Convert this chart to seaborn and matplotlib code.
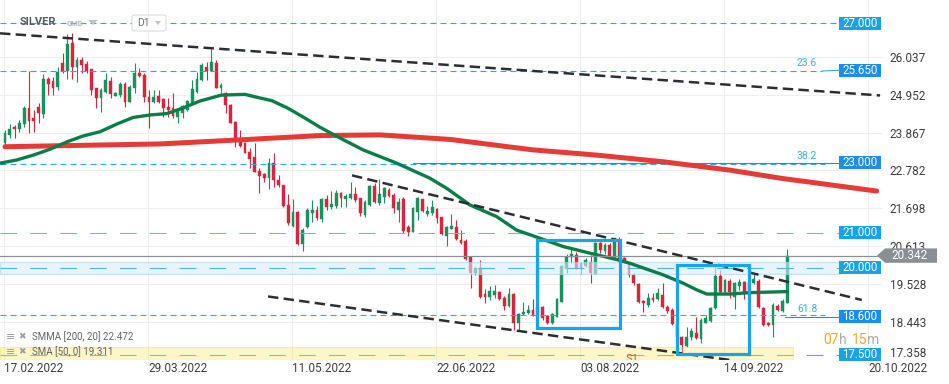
import numpy as np
import matplotlib
matplotlib.use('Agg')
import matplotlib.pyplot as plt
from matplotlib.patches import Rectangle, Polygon, FancyBboxPatch
import seaborn as sns

# daily candles of SILVER, first bar = 17.02.2022
opens = [23.58, 23.81, 24.03, 23.97, 24.10, 24.56, 24.27, 24.59, 24.39, 25.39,
         25.34, 25.16, 25.85, 25.64, 26.42, 25.74, 25.95, 25.83, 25.68, 25.13,
         24.85, 25.04, 25.35, 24.92, 24.94, 25.26, 24.75, 25.13, 25.58, 25.52,
         24.88, 24.73, 24.91, 24.82, 24.59, 24.56, 24.30, 24.42, 24.51, 24.72,
         25.04, 25.37, 25.74, 25.63, 25.87, 25.15, 24.99, 24.66, 24.18, 23.67,
         23.56, 23.32, 23.18, 22.77, 22.67, 22.56, 22.99, 22.51, 22.36, 21.79,
         21.20, 21.58, 20.67, 21.15, 21.57, 21.65, 21.38, 21.95, 21.74, 21.76,
         22.13, 21.95, 21.98, 22.11, 21.98, 21.50, 21.79, 22.34, 21.86, 22.03,
         22.22, 22.08, 21.65, 21.95, 21.15, 21.03, 21.60, 21.95, 21.52, 21.55,
         21.67, 21.44, 20.90, 21.11, 21.15, 20.79, 20.77, 20.29, 19.85, 20.00,
         19.24, 19.16, 19.21, 19.31, 19.12, 18.90, 19.24, 18.40, 18.66, 18.69,
         18.78, 18.64, 18.86, 18.61, 18.40, 18.59, 19.02, 19.95, 20.29, 20.36,
         19.95, 20.04, 20.17, 19.81, 20.71, 20.47, 20.64, 20.29, 20.79, 20.26,
         20.12, 19.78, 19.53, 19.04, 18.93, 19.14, 19.09, 19.21, 18.86, 18.78,
         18.38, 18.00, 17.75, 18.00, 18.11, 17.94, 18.42, 18.48, 18.83, 19.76,
         19.31, 19.62, 19.16, 19.47, 19.59, 19.31, 19.55, 19.62, 18.83, 18.40,
         18.35, 18.90, 18.76, 18.99]
highs = [23.94, 24.10, 24.08, 24.23, 24.63, 25.63, 24.51, 24.70, 25.54, 25.45,
         25.47, 25.75, 26.14, 26.69, 26.71, 26.02, 26.04, 25.93, 25.68, 25.13,
         25.13, 25.56, 25.47, 25.03, 25.32, 25.32, 25.23, 25.85, 25.71, 25.56,
         25.09, 25.09, 25.09, 24.85, 24.85, 24.99, 24.56, 24.66, 24.80, 25.37,
         25.61, 25.85, 25.90, 26.25, 25.95, 25.30, 25.04, 24.69, 24.21, 23.94,
         23.61, 23.41, 23.56, 22.84, 22.72, 23.13, 23.27, 22.65, 22.37, 22.11,
         21.95, 21.63, 21.12, 21.70, 21.93, 21.76, 21.98, 22.08, 22.20, 22.22,
         22.17, 22.11, 22.44, 22.30, 22.00, 21.93, 22.36, 22.41, 22.53, 22.30,
         22.27, 22.14, 21.98, 22.01, 21.22, 21.72, 22.01, 21.97, 21.76, 21.93,
         21.70, 21.46, 21.19, 21.52, 21.36, 21.07, 20.81, 20.33, 20.01, 20.22,
         19.37, 19.48, 19.50, 19.34, 19.18, 19.40, 19.26, 18.71, 19.02, 18.93,
         19.09, 18.95, 18.90, 18.64, 18.69, 19.12, 20.07, 20.40, 20.55, 20.45,
         20.17, 20.26, 20.36, 20.74, 20.74, 20.71, 20.69, 20.85, 20.86, 20.31,
         20.17, 19.83, 19.55, 19.07, 19.28, 19.28, 19.40, 19.55, 18.93, 18.83,
         18.42, 18.04, 18.29, 18.26, 18.59, 18.54, 18.64, 18.88, 20.02, 19.93,
         19.66, 19.66, 19.59, 19.66, 19.61, 19.70, 19.81, 19.66, 18.88, 18.45,
         18.97, 18.95, 19.10, 20.53]
lows = [23.51, 23.70, 23.70, 23.89, 24.04, 23.84, 23.89, 24.13, 24.27, 24.94,
        24.94, 25.09, 25.56, 25.39, 25.39, 25.32, 25.56, 25.56, 24.94, 24.56,
        24.46, 24.99, 24.85, 24.90, 24.89, 24.59, 24.73, 24.99, 25.47, 24.75,
        23.99, 24.70, 24.72, 24.32, 24.30, 24.29, 24.15, 24.27, 24.47, 24.70,
        24.99, 25.33, 25.37, 25.63, 25.13, 24.99, 24.44, 24.13, 23.44, 23.46,
        23.27, 22.84, 22.73, 22.14, 22.46, 22.24, 22.32, 22.32, 21.74, 21.22,
        21.17, 20.64, 20.48, 21.12, 21.31, 21.36, 21.29, 21.65, 21.67, 21.70,
        21.74, 21.74, 21.95, 21.89, 21.48, 21.46, 21.76, 21.86, 21.79, 21.86,
        22.03, 21.57, 21.29, 21.00, 20.90, 21.01, 21.36, 21.60, 21.48, 21.50,
        21.27, 20.93, 20.62, 21.09, 20.79, 20.67, 20.22, 19.40, 19.79, 19.12,
        18.97, 19.07, 19.12, 19.07, 18.78, 18.86, 18.21, 18.19, 18.64, 18.67,
        18.61, 18.55, 18.51, 18.38, 18.38, 18.57, 19.02, 19.83, 20.12, 19.96,
        19.81, 20.02, 19.57, 19.81, 20.41, 20.39, 20.26, 20.26, 20.17, 20.12,
        19.72, 19.50, 18.99, 18.73, 18.88, 19.02, 19.07, 18.83, 18.69, 18.35,
        17.97, 17.59, 17.73, 17.92, 17.94, 17.85, 18.40, 18.45, 18.80, 19.28,
        19.28, 19.14, 18.80, 19.35, 19.09, 19.25, 19.53, 18.83, 18.32, 18.32,
        18.00, 18.76, 18.72, 18.97]
closes = [23.84, 23.96, 23.96, 24.13, 24.56, 24.21, 24.21, 24.44, 25.39, 25.26,
          25.15, 25.61, 25.64, 26.40, 25.75, 25.95, 25.80, 25.64, 25.09, 24.87,
          25.09, 25.37, 24.96, 25.01, 25.26, 24.75, 25.18, 25.58, 25.50, 24.88,
          24.75, 24.88, 24.75, 24.58, 24.51, 24.34, 24.51, 24.63, 24.77, 25.11,
          25.39, 25.80, 25.63, 25.90, 25.13, 25.23, 24.66, 24.15, 23.65, 23.48,
          23.29, 23.11, 22.75, 22.62, 22.56, 22.99, 22.51, 22.36, 21.77, 21.27,
          21.58, 20.67, 21.07, 21.65, 21.65, 21.41, 21.95, 21.74, 21.82, 22.13,
          21.98, 22.05, 22.11, 21.93, 21.55, 21.87, 22.34, 21.89, 22.11, 22.27,
          22.05, 21.70, 21.89, 21.06, 21.03, 21.70, 21.98, 21.63, 21.62, 21.72,
          21.41, 20.96, 21.15, 21.19, 20.81, 20.69, 20.23, 19.85, 19.98, 19.16,
          19.16, 19.34, 19.34, 19.09, 18.90, 19.24, 18.40, 18.67, 18.73, 18.78,
          18.64, 18.86, 18.54, 18.42, 18.67, 19.10, 20.04, 20.31, 20.40, 19.98,
          20.12, 20.21, 19.85, 20.71, 20.50, 20.64, 20.29, 20.84, 20.22, 20.20,
          19.78, 19.55, 19.02, 18.97, 19.14, 19.07, 19.28, 18.86, 18.76, 18.38,
          18.00, 17.78, 18.00, 18.19, 17.97, 18.49, 18.54, 18.83, 19.76, 19.31,
          19.64, 19.31, 19.57, 19.59, 19.31, 19.55, 19.66, 18.86, 18.35, 18.35,
          18.93, 18.78, 19.05, 20.34]

date_labels = ['17.02.2022', '29.03.2022', '11.05.2022', '22.06.2022',
               '03.08.2022', '14.09.2022', '20.10.2022']
date_bars = [0, 30, 60, 90, 120, 150, 180]
price_ticks = [26.037, 24.952, 23.867, 22.782, 21.698, 20.613, 19.528, 18.443, 17.358]

# indicators (bar, price)
sma50_bar = [-1.0, 2.4, 5.9, 9.4, 12.9, 16.3, 19.8, 23.3, 26.7, 30.2, 33.7, 37.1,
             40.6, 45.1, 50.0, 52.1, 55.6, 59.0, 62.5, 65.6, 69.8, 74.6, 81.6, 88.5,
             92.0, 96.9, 102.4, 106.6, 110.8, 116.3, 121.9, 127.4, 130.2, 137.1,
             141.3, 144.1, 146.2, 151.0, 155.2, 163.0]
sma50_val = [22.99, 23.08, 23.22, 23.39, 23.60, 23.77, 23.89, 24.11, 24.30, 24.37,
             24.41, 24.57, 24.77, 24.94, 24.96, 24.89, 24.78, 24.56, 24.28, 24.02,
             23.71, 23.37, 22.99, 22.56, 22.27, 21.79, 21.46, 21.07, 20.87, 20.60,
             20.41, 20.23, 20.12, 19.79, 19.55, 19.36, 19.24, 19.24, 19.28, 19.31]
smma_bar = [0, 15.6, 32.3, 47.9, 65.6, 78.1, 92.7, 110.0, 123.3, 137.1, 151.0, 161.5, 181.6]
smma_val = [23.46, 23.50, 23.54, 23.65, 23.78, 23.80, 23.67, 23.37, 23.22, 23.03,
            22.79, 22.56, 22.19]

# drawn trend lines (bar, price)
trend_top = ([-1.04, 182.3], [26.71, 24.93])
trend_mid = ([72.3, 178.5], [22.64, 19.07])
trend_low = ([54.8, 151.0], [19.17, 17.35])

level_prices = [27.0, 25.65, 23.0, 21.0, 20.0, 18.6, 17.5]
level_texts = ['27.000', '25.650', '23.000', '21.000', '20.000', '18.600', '17.500']
fib_prices = [25.65, 23.0, 18.6]
fib_texts = ['23.6', '38.2', '61.8']
last_price = 20.342

zone_20 = (19.805, 20.149)
zone_175 = (17.29, 17.71)
box_a = (110.9, 128.1, 18.26, 20.79)
box_b = (139.9, 155.0, 17.52, 20.07)

sns.set_style('white')
plt.rcParams['font.family'] = ['Roboto', 'DejaVu Sans']
plt.rcParams['lines.scale_dashes'] = False

W, H = 949, 384


def bx(px):
    return (px - 5) / 4.8


def py(px):
    return 20 + (267.5 - px) / 34.9


def F(x, y):
    return (x / W, 1 - y / H)


fig = plt.figure(figsize=(W / 100, H / 100), dpi=100)
fig.patch.set_facecolor('white')
ax = fig.add_axes([0, 24 / H, 882 / W, 360 / H])
ax.set_xlim(bx(0), bx(882))
ax.set_ylim(py(360), py(0))
for s in ax.spines.values():
    s.set_visible(False)

# grid
ax.set_yticks(price_ticks)
ax.set_yticklabels([f'{v:.3f}' for v in price_ticks])
ax.yaxis.tick_right()
ax.set_xticks(np.array(date_bars) - 0.2)
ax.set_xticklabels(date_labels, ha='left')
ax.tick_params(axis='y', length=0, pad=5.5, labelsize=8.5, labelcolor='#3d3d3d')
ax.tick_params(axis='x', length=0, pad=1.5, labelsize=8.5, labelcolor='#3d3d3d')
ax.grid(True, color='#eeeeee', lw=0.8)
ax.set_axisbelow(True)
for lab in ax.get_yticklabels():
    if lab.get_text() == '17.358':
        lab.set_va('bottom')

# zones
ax.add_patch(Rectangle((bx(0), zone_20[0]), bx(840) - bx(0), zone_20[1] - zone_20[0],
                       fc='#d8eefb', ec='#9fd6f3', lw=0.9, alpha=0.6, zorder=4.5))

# horizontal levels
short = (0, (4.3, 2.9))
longd = (0, (12, 9.5))
ax.plot([bx(0), bx(839)], [27.0, 27.0], color='#2aa8e6', lw=0.8, ls=short, zorder=5)
ax.plot([bx(0), bx(822)], [25.63, 25.63], color='#2aa8e6', lw=0.8, ls=short, zorder=5)
ax.plot([bx(822), bx(839)], [25.63, 25.65], color='#2a9ae6', lw=0.7, zorder=5)
ax.plot([bx(0), bx(825)], [22.966, 22.966], color='#2aa8e6', lw=0.8, ls=short, zorder=5)
ax.plot([bx(413), bx(839)], [23.0, 23.0], color='#1f8fe8', lw=0.8, zorder=5)
ax.plot([bx(0), bx(839)], [21.0, 21.0], color='#5fbdee', lw=0.8, ls=longd, zorder=5)
ax.plot([bx(0), bx(839)], [20.0, 20.0], color='#4fb2ea', lw=0.8, ls=longd, zorder=4.6)
ax.plot([bx(0), bx(825)], [18.64, 18.64], color='#2aa8e6', lw=0.8, ls=short, zorder=5)
ax.plot([bx(785), bx(839)], [18.59, 18.59], color='#1f8fe8', lw=0.8, zorder=5)
ax.plot([bx(0), bx(839)], [17.5, 17.5], color='#45aee6', lw=0.8, ls=longd, zorder=5)
ax.add_patch(Rectangle((bx(0), zone_175[0]), bx(792.7) - bx(0), zone_175[1] - zone_175[0],
                       fc='#fbe65c', ec='#f2d630', lw=0.9, alpha=0.35, zorder=6))

# candles
idx = np.arange(len(opens))
o = np.array(opens)
c = np.array(closes)
cols = np.where(c >= o, '#17915e', '#d6253c')
ax.vlines(idx, lows, highs, colors=cols, lw=0.8, zorder=3)
ax.bar(idx, np.maximum(np.abs(c - o), 0.03), bottom=np.minimum(o, c), width=0.62,
       color=cols, edgecolor=cols, linewidth=0.3, zorder=4)

# moving averages
sns.lineplot(x=smma_bar, y=smma_val, ax=ax, color='#e53a35', linewidth=3.6, zorder=5,
             sort=False, legend=False)
sns.lineplot(x=sma50_bar, y=sma50_val, ax=ax, color='#0b7d48', linewidth=2.4, zorder=5,
             sort=False, legend=False)

# trend lines
for xs, ys in (trend_top, trend_mid, trend_low):
    ax.plot(xs, ys, color='#2b2f34', lw=1.8, ls=(0, (7.5, 3.8)), zorder=7)

# analysis boxes
for x0, x1, y0, y1 in (box_a, box_b):
    ax.add_patch(Rectangle((x0, y0), x1 - x0, y1 - y0, fill=False, ec='#13a5ee', lw=2.3, zorder=8))

# current price line
ax.plot([bx(0), bx(882)], [last_price, last_price], color='#8b9095', lw=0.9, zorder=6)

# level tags
light = ['27.000', '21.000', '20.000', '17.500']
hh = 13 / 34.9
for p, t in zip(level_prices, level_texts):
    col = '#16a3e9' if t in light else '#1c8df0'
    ax.add_patch(Rectangle((bx(839), p - hh / 2), bx(881) - bx(839), hh, fc=col, ec='none',
                           zorder=9, clip_on=False))
    ax.text(bx(860), p, t, color='white', fontsize=8.3, ha='center', va='center', zorder=10)
for p, t in zip(fib_prices, fib_texts):
    ax.text(bx(807), p + 0.2, t, color='#3aaee8', fontsize=7.5, ha='center', va='center', zorder=9)

# price tag
tag = [(877, 255.6), (885, 248.4), (937, 248.4), (937, 262.8), (885, 262.8)]
ax.add_patch(Polygon([(bx(x), py(y)) for x, y in tag], closed=True, fc='#899095', ec='none',
                     zorder=10, clip_on=False))
ax.text(bx(910), last_price, f'{last_price:.3f}', color='white', fontsize=8.5,
        ha='center', va='center', zorder=11, clip_on=False)

ax.text(bx(626), py(354), 'S1', color='#e9561e', fontsize=8, va='top', zorder=9, clip_on=True)

# header
fig.text(*F(20, 22), 'SILVER', fontsize=8, fontweight='bold', color='#555b61', va='center')
fig.text(*F(67, 23.5), 'CMD', fontsize=5.5, fontweight='bold', color='#b2b6ba', va='center')
fig.patches.append(Polygon([F(88, 20), F(98, 20), F(93, 25)], closed=True, fc='#c0c4c8',
                           ec='none', transform=fig.transFigure))
fig.patches.append(FancyBboxPatch(F(132, 31), 34 / W, 16 / H,
                                  boxstyle='round,pad=0,rounding_size=0.004',
                                  fc='white', ec='#dcdcdc', lw=0.8, transform=fig.transFigure))
fig.text(*F(137, 23), 'D1', fontsize=7.5, color='#676c70', va='center')
fig.patches.append(Polygon([F(155, 21), F(161, 21), F(158, 25)], closed=True, fc='#c0c4c8',
                           ec='none', transform=fig.transFigure))

# indicator legend
for yy, t in ((337, 'SMMA [200, 20] 22.472'), (352, 'SMA [50, 0] 19.311')):
    fig.text(*F(6, yy), '\u2261', fontsize=8, color='#9a9ea2', va='center', family='DejaVu Sans')
    fig.text(*F(18.5, yy), '\u2716', fontsize=6.5, color='#9a9ea2', va='center', family='DejaVu Sans')
    fig.text(*F(32, yy), t, fontsize=7, color='#5f6469', va='center')

# countdown
for x, t, col in ((823, '07', '#f5a623'), (838.5, 'h', '#ababab'),
                  (851.5, '15', '#f5a623'), (867, 'm', '#ababab')):
    fig.text(*F(x, 340), t, fontsize=10, color=col, va='center')

fig.savefig('out.png', dpi=100)
